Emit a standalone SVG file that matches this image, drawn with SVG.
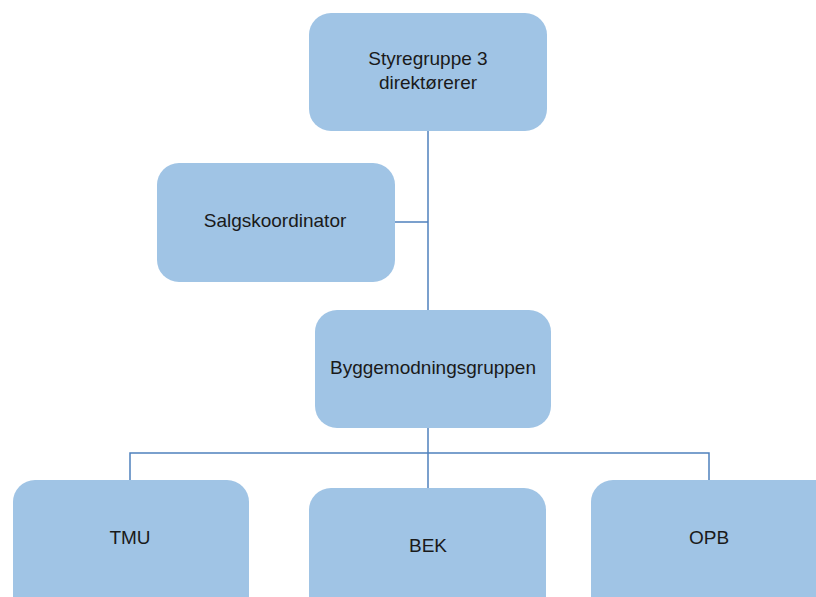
<svg xmlns="http://www.w3.org/2000/svg" width="816" height="597" viewBox="0 0 816 597">
<style>
.box{fill:#a0c4e5;stroke:none}
.lbl{font-family:"Liberation Sans",Arial,sans-serif;font-size:19px;fill:#1a1a1a;text-anchor:middle}
.con{stroke:#4f81bd;stroke-width:1.5;fill:none}
</style>
<rect width="816" height="597" fill="#ffffff"/>
<g id="connectors">
<path class="con" d="M428,131 V311"/>
<path class="con" d="M395,222 H428"/>
<path class="con" d="M428,428 V488"/>
<path class="con" d="M130,480 V453 H709 V480"/>
</g>
<g id="styregruppe">
<rect class="box" x="309" y="13" width="238" height="118" rx="22"/>
<text class="lbl" x="428" y="65">Styregruppe 3</text>
<text class="lbl" x="428" y="89">direktørerer</text>
</g>
<g id="salgskoordinator">
<rect class="box" x="157" y="163" width="238" height="119" rx="22"/>
<text class="lbl" x="275" y="227">Salgskoordinator</text>
</g>
<g id="byggemodningsgruppen">
<rect class="box" x="315" y="310" width="236" height="118" rx="22"/>
<text class="lbl" x="433" y="374">Byggemodningsgruppen</text>
</g>
<g id="tmu">
<rect class="box" x="13" y="480" width="236" height="140" rx="22"/>
<text class="lbl" x="130" y="544">TMU</text>
</g>
<g id="bek">
<rect class="box" x="309" y="488" width="237" height="140" rx="22"/>
<text class="lbl" x="428" y="552">BEK</text>
</g>
<g id="opb">
<rect class="box" x="591" y="480" width="250" height="140" rx="22"/>
<text class="lbl" x="709" y="544">OPB</text>
</g>
</svg>
